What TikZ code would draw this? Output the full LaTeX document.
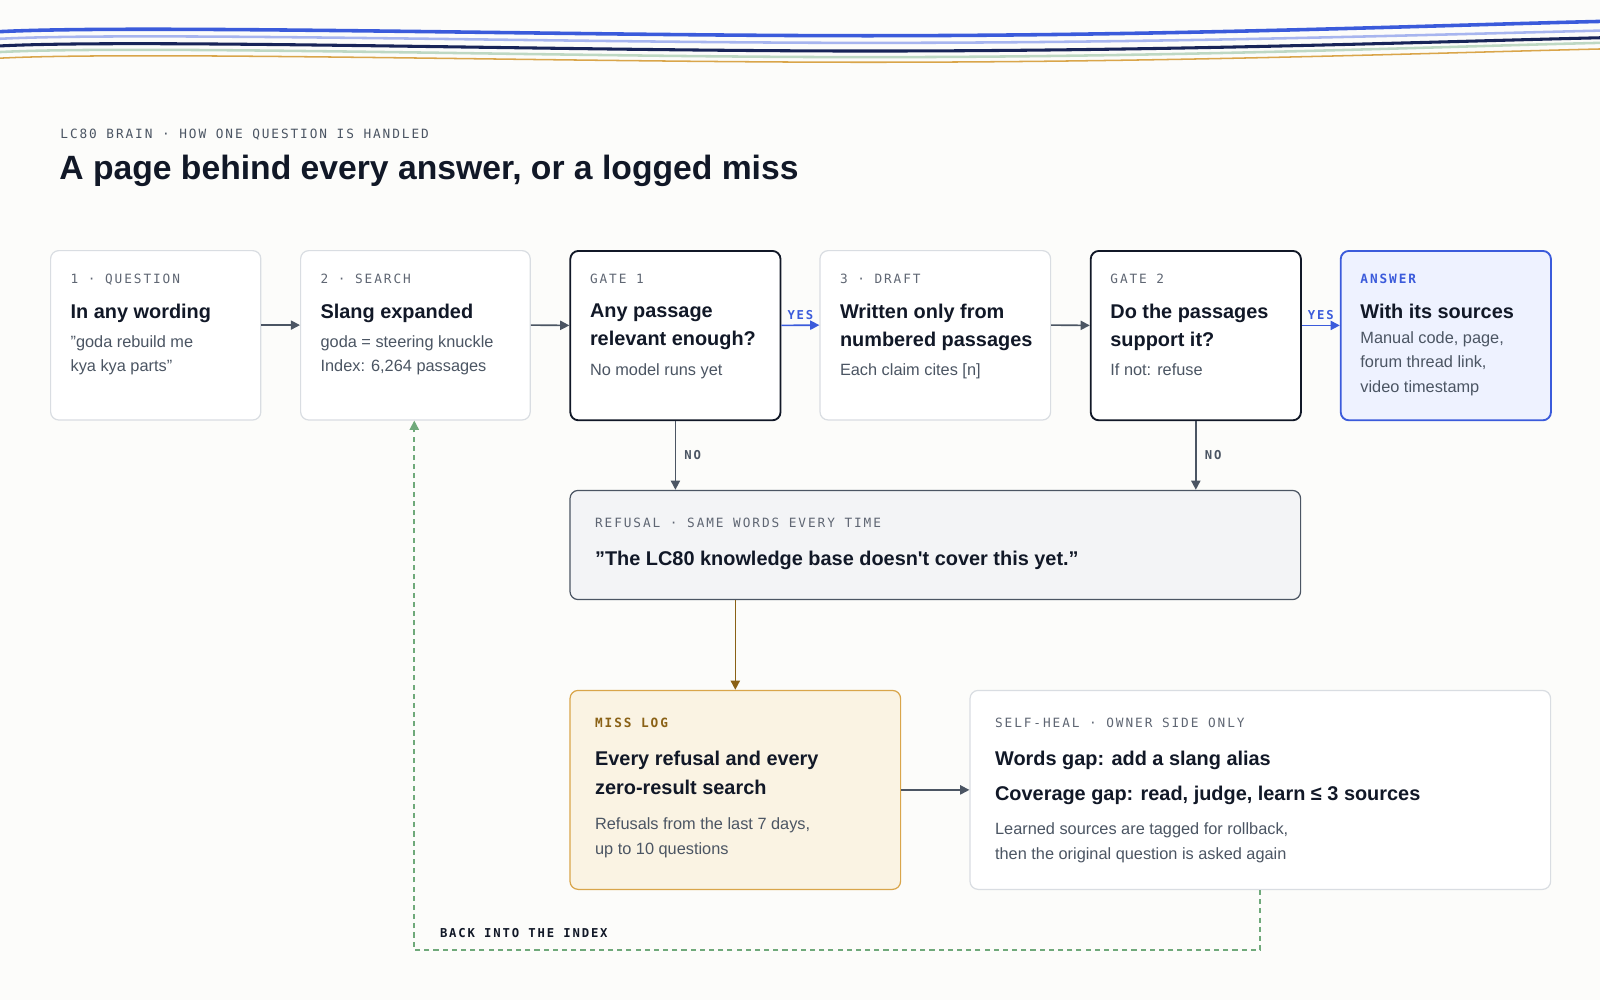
\documentclass[tikz,border=0pt]{standalone}
\usepackage{fontspec}
\setmainfont{Liberation Sans}
\newfontfamily\monofont{DejaVu Sans Mono}[LetterSpace=15]
\usetikzlibrary{arrows.meta,positioning,calc}

\definecolor{ink}{HTML}{111827}
\definecolor{muted}{HTML}{4B5563}
\definecolor{lblgray}{HTML}{5F6673}
\definecolor{edge}{HTML}{D9DDE2}
\definecolor{paper}{HTML}{FCFCFA}
\definecolor{ansblue}{HTML}{3B5BDB}
\definecolor{ansfill}{HTML}{EEF2FF}
\definecolor{reffill}{HTML}{F3F4F6}
\definecolor{missfill}{HTML}{FAF3E3}
\definecolor{missedge}{HTML}{D9A54A}
\definecolor{missbrown}{HTML}{8A6116}
\definecolor{loopgreen}{HTML}{6FA97A}

\tikzstyle{arrow} = [line width=1.6pt,draw=muted,-{Triangle[length=9pt,width=9pt]}]
\tikzstyle{stage} = [
        rectangle,
        rounded corners=8pt,
        anchor=north west,
        minimum width=206pt,
        minimum height=166pt,
        draw=edge,
        line width=1.2pt,
        fill=white
    ]
\tikzstyle{gate} = [stage, draw=ink, line width=1.8pt]
\tikzstyle{lbl} = [anchor=north west, inner sep=0pt, text=lblgray, font=\monofont\fontsize{12.5}{14}\selectfont]
\tikzstyle{ttl} = [anchor=north west, inner sep=0pt, align=left, text=ink, font=\fontsize{19.5}{27}\selectfont\bfseries]
\tikzstyle{txt} = [anchor=north west, inner sep=0pt, align=left, text=muted, font=\fontsize{16}{24}\selectfont]
\tikzstyle{flag} = [inner sep=0pt, font=\monofont\bfseries\fontsize{12}{14}\selectfont]

\begin{document}
\begin{tikzpicture}[x=1pt,y=-1pt]

        \fill [paper] (0,0) rectangle (1568,980);
        \useasboundingbox (0,0) rectangle (1568,980);

        % wavy header lines
        \foreach \col/\wd/\l/\p/\m/\r in {ansblue/3.5/31/26/35/21, ansblue!45/2.5/38/33/42/30, ansblue!40!black/3/45/40/50/37, loopgreen!45/2.5/51/46/56/42, missedge/1.5/57/52/61/48}
            \draw [\col, line width=\wd pt] (0,\l) .. controls (140,\p-2) and (560,\m) .. (850,\m) .. controls (1150,\m) and (1400,\r+4) .. (1568,\r);

        \node [lbl, text=muted] (kicker) at (59,126) {LC80 BRAIN · HOW ONE QUESTION IS HANDLED};
        \node [anchor=north west, inner sep=0pt, text=ink, font=\fontsize{33}{40}\selectfont\bfseries] (title) at (58,152) {A page behind every answer, or a logged miss};

        % top row
        \node [stage] (question) at (49,245) {};
        \node [stage, minimum width=225pt] (search) at (294,245) {};
        \node [gate] (gate1) at (558,245) {};
        \node [stage, minimum width=226pt] (draft) at (803,245) {};
        \node [gate] (gate2) at (1068,245) {};
        \node [stage, draw=ansblue, fill=ansfill, line width=1.8pt] (answer) at (1313,245) {};

        \node [lbl] (qlbl) at ($(question.north west)+(20,23)$) {1 · QUESTION};
        \node [ttl] (qttl) at ($(question.north west)+(20,53)$) {In any wording};
        \node [txt] (qtxt) at ([yshift=-12pt]qttl.south west) {\symbol{34}goda rebuild me\\kya kya parts\symbol{34}};

        \node [lbl] (slbl) at ($(search.north west)+(20,23)$) {2 · SEARCH};
        \node [ttl] (sttl) at ($(search.north west)+(20,53)$) {Slang expanded};
        \node [txt] (stxt) at ([yshift=-12pt]sttl.south west) {goda = steering knuckle\\Index: 6,264 passages};

        \node [lbl] (g1lbl) at ($(gate1.north west)+(20,23)$) {GATE 1};
        \node [ttl] (g1ttl) at ($(gate1.north west)+(20,53)$) {Any passage\\relevant enough?};
        \node [txt] (g1txt) at ([yshift=-13pt]g1ttl.south west) {No model runs yet};

        \node [lbl] (dlbl) at ($(draft.north west)+(20,23)$) {3 · DRAFT};
        \node [ttl] (dttl) at ($(draft.north west)+(20,53)$) {Written only from\\numbered passages};
        \node [txt] (dtxt) at ([yshift=-13pt]dttl.south west) {Each claim cites [n]};

        \node [lbl] (g2lbl) at ($(gate2.north west)+(20,23)$) {GATE 2};
        \node [ttl] (g2ttl) at ($(gate2.north west)+(20,53)$) {Do the passages\\support it?};
        \node [txt] (g2txt) at ([yshift=-13pt]g2ttl.south west) {If not: refuse};

        \node [lbl, text=ansblue, font=\monofont\bfseries\fontsize{12.5}{14}\selectfont] (albl) at ($(answer.north west)+(20,23)$) {ANSWER};
        \node [ttl] (attl) at ($(answer.north west)+(20,53)$) {With its sources};
        \node [txt] (atxt) at ([yshift=-12pt]attl.south west) {Manual code, page,\\forum thread link,\\video timestamp};

        % refusal
        \node [stage, draw=muted, fill=reffill, minimum width=716pt, minimum height=107pt] (refusal) at (558,480) {};
        \node [lbl] (rlbl) at ($(refusal.north west)+(25,27)$) {REFUSAL · SAME WORDS EVERY TIME};
        \node [ttl] (rttl) at ($(refusal.north west)+(25,60)$) {\symbol{34}The LC80 knowledge base doesn\textquotesingle t cover this yet.\symbol{34}};

        % miss log and self-heal
        \node [stage, draw=missedge, fill=missfill, minimum width=324pt, minimum height=195pt] (misslog) at (558,676) {};
        \node [lbl, text=missbrown, font=\monofont\bfseries\fontsize{12.5}{14}\selectfont] (mlbl) at ($(misslog.north west)+(25,27)$) {MISS LOG};
        \node [ttl, font=\fontsize{19.5}{28}\selectfont\bfseries] (mttl) at ($(misslog.north west)+(25,60)$) {Every refusal and every\\zero-result search};
        \node [txt, font=\fontsize{16}{25}\selectfont] (mtxt) at ([yshift=-22pt]mttl.south west) {Refusals from the last 7 days,\\up to 10 questions};

        \node [stage, minimum width=569pt, minimum height=195pt] (selfheal) at (950,676) {};
        \node [lbl] (hlbl) at ($(selfheal.north west)+(25,27)$) {SELF-HEAL · OWNER SIDE ONLY};
        \node [ttl, font=\fontsize{19.5}{34}\selectfont\bfseries] (httl) at ($(selfheal.north west)+(25,60)$) {Words gap: add a slang alias\\Coverage gap: read, judge, learn ≤ 3 sources};
        \node [txt, font=\fontsize{16}{25}\selectfont] (htxt) at ([yshift=-17pt]httl.south west) {Learned sources are tagged for rollback,\\then the original question is asked again};

        % connectors
        \draw [arrow] ([yshift=10pt]question.east) -- ([yshift=10pt]search.west);
        \draw [arrow] ([yshift=10pt]search.east) -- ([yshift=10pt]gate1.west);
        \draw [arrow, draw=ansblue] ([yshift=10pt]gate1.east) -- node [flag, text=ansblue, above=5pt] (yes1) {YES} ([yshift=10pt]draft.west);
        \draw [arrow] ([yshift=10pt]draft.east) -- ([yshift=10pt]gate2.west);
        \draw [arrow, draw=ansblue] ([yshift=10pt]gate2.east) -- node [flag, text=ansblue, above=5pt] (yes2) {YES} ([yshift=10pt]answer.west);
        \draw [arrow] (gate1) -- node [flag, text=muted, right=8pt] (no1) {NO} (gate1 |- refusal.north);
        \draw [arrow] (gate2) -- node [flag, text=muted, right=8pt] (no2) {NO} (gate2 |- refusal.north);
        \draw [arrow, draw=missbrown] (refusal.south -| misslog) -- (misslog);
        \draw [arrow] (misslog) -- (selfheal);

        \coordinate (loopright) at (1235,931);
        \coordinate (loopleft) at (406,931);
        \draw [arrow, draw=loopgreen, dashed, dash pattern=on 5pt off 4pt] (selfheal.south -| loopright) -- (loopright) -- (loopleft) -- (search.south -| loopleft);
        \node [flag, text=ink, anchor=west] (backlbl) at (431,914) {BACK INTO THE INDEX};

    \end{tikzpicture}
\end{document}
